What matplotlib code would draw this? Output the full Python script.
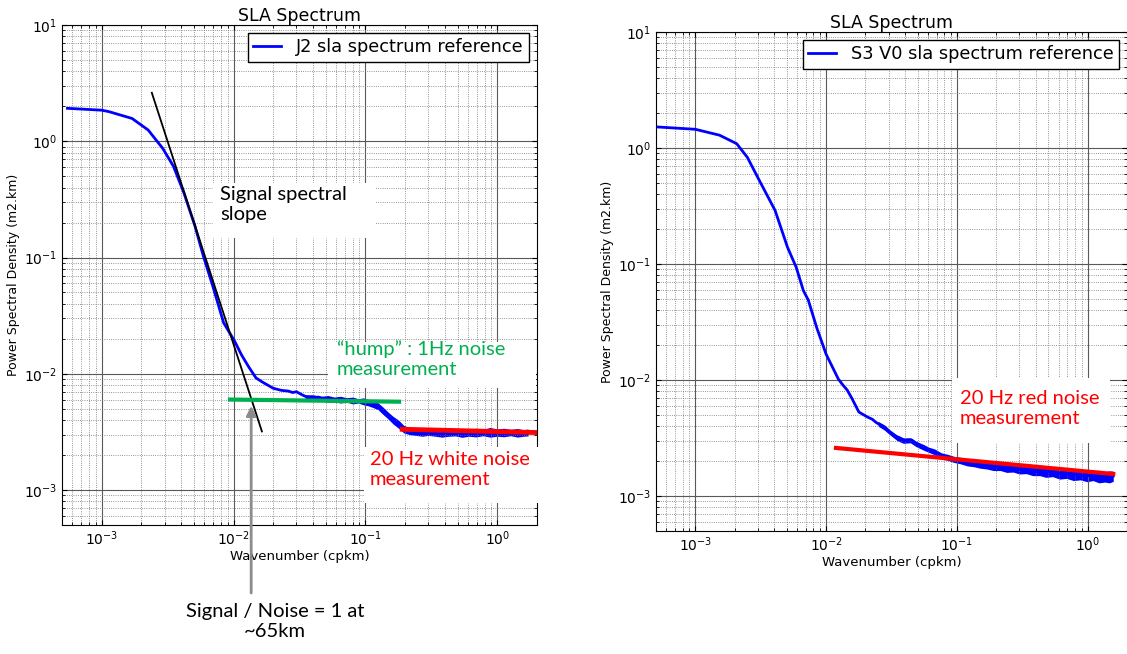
import matplotlib
matplotlib.use("Agg")
import matplotlib.pyplot as plt
from matplotlib.patches import Rectangle

# J2 spectrum (left panel)
j2_k = [5.5e-4, 1.0e-3, 1.13e-3, 1.7e-3, 2.25e-3, 2.9e-3, 3.5e-3, 4.2e-3, 5.1e-3,
        5.9e-3, 6.95e-3, 8.4e-3, 0.0102, 0.0115, 0.0130, 0.0148, 0.0165, 0.0200,
        0.0230, 0.0260, 0.0280, 0.0300, 0.0330, 0.0360, 0.0400, 0.0440, 0.0480,
        0.0530, 0.0580, 0.0640, 0.0700, 0.0770, 0.0850, 0.0930, 0.1000, 0.1070,
        0.1150, 0.1230, 0.1320, 0.1420, 0.1520, 0.1630, 0.1750, 0.1880, 0.2000,
        0.2500, 0.4000, 0.6000, 1.0000, 1.4000, 1.7100]
j2_psd = [1.92, 1.85, 1.80, 1.57, 1.25, 0.87, 0.61, 0.36, 0.186,
          0.103, 0.057, 0.0275, 0.0190, 0.0145, 0.0115, 0.0092, 0.0085, 0.0075,
          0.0072, 0.0071, 0.0069, 0.0070, 0.0066, 0.0063, 0.0062, 0.0063, 0.0061,
          0.0061, 0.0059, 0.0061, 0.0059, 0.0060, 0.0058, 0.0059, 0.0058, 0.0057,
          0.0055, 0.0053, 0.0049, 0.0045, 0.0042, 0.0039, 0.0037, 0.0035, 0.0034,
          0.0032, 0.0031, 0.0031, 0.0031, 0.0031, 0.0031]
# scatter envelope of the noisy J2 tail
j2_band_k = [0.035, 0.040, 0.046, 0.052, 0.058, 0.065, 0.072, 0.080, 0.088, 0.097,
             0.105, 0.115, 0.125, 0.135, 0.148, 0.162, 0.178, 0.195, 0.215, 0.24,
             0.27, 0.30, 0.34, 0.38, 0.43, 0.48, 0.54, 0.61, 0.69, 0.78,
             0.88, 1.0, 1.12, 1.26, 1.42, 1.58, 1.71]
j2_band_lo = [0.0060, 0.0058, 0.0059, 0.0057, 0.0057, 0.0056, 0.0057, 0.0055, 0.0056, 0.0054,
              0.0053, 0.0051, 0.0049, 0.0045, 0.0041, 0.0037, 0.0034, 0.0031, 0.0030, 0.00295,
              0.0029, 0.00295, 0.0029, 0.00285, 0.0029, 0.00292, 0.00284, 0.0029, 0.00286, 0.00293,
              0.00285, 0.0029, 0.00287, 0.00293, 0.00285, 0.0029, 0.00292]
j2_band_hi = [0.0066, 0.0066, 0.0064, 0.0065, 0.0063, 0.0064, 0.0062, 0.0063, 0.0061, 0.0062,
              0.0060, 0.0059, 0.0056, 0.0052, 0.0047, 0.0043, 0.0040, 0.0036, 0.00345, 0.0034,
              0.00335, 0.0034, 0.0033, 0.00342, 0.00335, 0.0033, 0.00338, 0.00332, 0.0034, 0.00333,
              0.00345, 0.00335, 0.0034, 0.00332, 0.00338, 0.0033, 0.00335]

# S3 V0 spectrum (right panel)
s3_k = [5.06e-4, 1.0e-3, 1.53e-3, 2.07e-3, 2.5e-3, 3.1e-3, 4.07e-3, 5.06e-3, 5.9e-3,
        6.7e-3, 7.3e-3, 8.5e-3, 0.0100, 0.0124, 0.0135, 0.0145, 0.0158, 0.0178,
        0.0207, 0.0225, 0.0242, 0.0270, 0.0300, 0.0330, 0.0360, 0.0395, 0.0450,
        0.0520, 0.0560, 0.0610, 0.0680, 0.0780, 0.0880, 0.10, 0.15, 0.20, 0.30,
        0.40, 0.70, 1.00, 1.30, 1.57]
s3_psd = [1.52, 1.45, 1.29, 1.09, 0.83, 0.52, 0.29, 0.14, 0.094,
          0.059, 0.049, 0.028, 0.0167, 0.0102, 0.0090, 0.0082, 0.0069, 0.0053,
          0.0048, 0.0046, 0.0043, 0.0040, 0.0036, 0.0033, 0.0032, 0.0030, 0.00305,
          0.0027, 0.00265, 0.0025, 0.0024, 0.0022, 0.00215, 0.00206, 0.00190, 0.00181, 0.00172,
          0.00166, 0.00155, 0.00150, 0.00148, 0.00149]
# scatter envelope of the noisy S3 tail
s3_band_k = [0.025, 0.028, 0.031, 0.035, 0.039, 0.044, 0.049, 0.055, 0.061, 0.068,
             0.076, 0.085, 0.095, 0.106, 0.12, 0.135, 0.15, 0.17, 0.19, 0.215,
             0.24, 0.27, 0.30, 0.34, 0.38, 0.43, 0.48, 0.54, 0.61, 0.69,
             0.78, 0.88, 0.99, 1.1, 1.22, 1.35, 1.47, 1.57]
s3_band_lo = [0.0040, 0.0037, 0.00335, 0.0030, 0.00285, 0.00288, 0.00266, 0.0025, 0.00238, 0.00226,
              0.0021, 0.00203, 0.00195, 0.0019, 0.00182, 0.00179, 0.00174, 0.00171, 0.00166, 0.00166,
              0.0016, 0.00161, 0.00155, 0.00156, 0.0015, 0.0015, 0.00145, 0.00147, 0.0014, 0.00142,
              0.00136, 0.00138, 0.00133, 0.00136, 0.0013, 0.00132, 0.0013, 0.00134]
s3_band_hi = [0.0044, 0.0041, 0.0037, 0.00335, 0.00318, 0.00318, 0.00296, 0.0028, 0.00264, 0.00254,
              0.00236, 0.00229, 0.0022, 0.00216, 0.0021, 0.00206, 0.00205, 0.00198, 0.00198, 0.00193,
              0.00192, 0.00188, 0.00188, 0.00182, 0.00183, 0.00177, 0.00179, 0.00173, 0.00174, 0.00168,
              0.00171, 0.00165, 0.00168, 0.00163, 0.00167, 0.00162, 0.00165, 0.00164]

# fitted lines (endpoints)
slope_k = [2.4e-3, 0.0164]
slope_psd = [2.61, 0.00319]
hump_k = [0.0094, 0.18]
hump_psd = [0.0060, 0.00575]
white_k = [0.19, 2.0]
white_psd = [0.00333, 0.00312]
red_k = [0.0119, 1.57]
red_psd = [0.0026, 0.00155]
sn_k = 0.0136
sn_psd = 0.0053

W, H = 1127, 654
fig = plt.figure(figsize=(W / 100, H / 100), dpi=100)
plt.rcParams['mathtext.default'] = 'regular'
note_font = ['Lato', 'DejaVu Sans']


def setup(ax):
    ax.set_xscale('log')
    ax.set_yscale('log')
    ax.set_xlim(5e-4, 2)
    ax.set_ylim(5e-4, 10)
    ax.grid(True, which='major', color='0.35', lw=0.8, ls='-')
    ax.grid(True, which='minor', color='0.45', lw=0.6, ls=':')
    ax.tick_params(which='both', direction='in', top=True, right=True, labelsize=10)
    ax.set_title('SLA Spectrum', fontsize=12.5, pad=3)
    ax.set_xlabel('Wavenumber (cpkm)', fontsize=9.5, labelpad=1)
    ax.set_ylabel('Power Spectral Density (m2.km)', fontsize=9, labelpad=3)


def note(x0, y0, x1, y1, tx, ty, s, color):
    fig.add_artist(Rectangle((x0 / W, 1 - y1 / H), (x1 - x0) / W, (y1 - y0) / H,
                             transform=fig.transFigure, facecolor='white',
                             edgecolor='none', zorder=5))
    fig.text(tx / W, 1 - ty / H, s, color=color, fontsize=14.5, family=note_font,
             va='top', ha='left', linespacing=1.2, zorder=6)


ax1 = fig.add_axes([62 / W, 1 - 525 / H, 475 / W, 500 / H])
setup(ax1)
ax1.fill_between(j2_band_k, j2_band_lo, j2_band_hi, color='blue', lw=0)
ax1.plot(j2_k, j2_psd, color='blue', lw=2, label='J2 sla spectrum reference')
ax1.plot(slope_k, slope_psd, color='black', lw=1.3)
ax1.plot(hump_k, hump_psd, color='#00B050', lw=3)
ax1.plot(white_k, white_psd, color='red', lw=3.5)
ax1.legend(loc='upper right', fontsize=12.8, fancybox=False, edgecolor='black',
           borderaxespad=0.45, borderpad=0.3, handlelength=1.55, handletextpad=0.85,
           framealpha=1)
ax1.annotate('', xy=(sn_k, sn_psd), xycoords='data',
             xytext=(sn_k, 61 / H), textcoords=('data', 'figure fraction'),
             arrowprops=dict(arrowstyle='-|>', color='#8c8c8c', lw=2,
                             mutation_scale=14, shrinkA=0, shrinkB=0),
             annotation_clip=False)

ax2 = fig.add_axes([656 / W, 1 - 531 / H, 471 / W, 499 / H])
setup(ax2)
ax2.fill_between(s3_band_k, s3_band_lo, s3_band_hi, color='blue', lw=0)
ax2.plot(s3_k, s3_psd, color='blue', lw=2, label='S3 V0 sla spectrum reference')
ax2.plot(red_k, red_psd, color='red', lw=3)
ax2.legend(loc='upper right', fontsize=12.8, fancybox=False, edgecolor='black',
           borderaxespad=0.45, borderpad=0.3, handlelength=1.55, handletextpad=0.85,
           framealpha=1)

note(213, 183, 376, 238, 220, 186, 'Signal spectral\nslope', 'black')
note(328, 342, 536, 388, 337, 340, '\u201chump\u201d : 1Hz noise\nmeasurement', '#00B050')
note(364, 447, 560, 503, 370, 451, '20 Hz white noise\nmeasurement', 'red')
note(952, 378, 1110, 443, 960, 390, '20 Hz red noise\nmeasurement', 'red')
fig.text(275 / W, 1 - 603 / H, 'Signal / Noise = 1 at\n~65km', color='black',
         fontsize=14.5, family=note_font, ha='center', va='top', linespacing=1.2)

fig.savefig('out.png', dpi=100)
